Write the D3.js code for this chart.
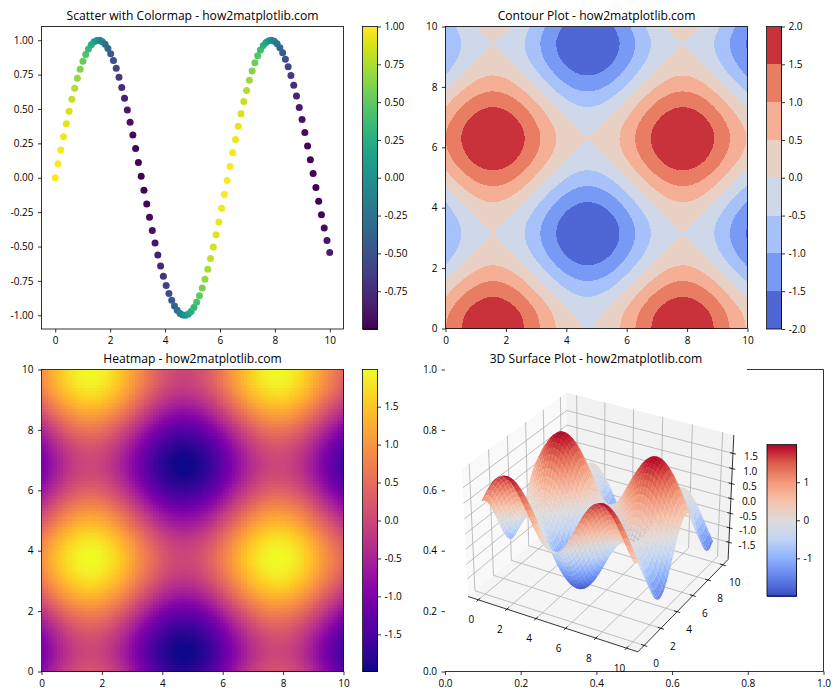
<!DOCTYPE html>
<html><head><meta charset="utf-8">
<script src="https://cdn.jsdelivr.net/npm/d3@7"></script>
<style>html,body{margin:0;padding:0;background:#fff}svg{display:block}text{font-family:"Open Sans","Noto Sans",sans-serif;fill:#000}</style>
</head><body><svg id="fig" width="840" height="700"></svg>
<script>
const scatterX=[0,.101,.202,.303,.404,.505,.606,.707,.808,.909,1.010,1.111,1.212,1.313,1.414,1.515,1.616,1.717,1.818,1.919,2.020,2.121,2.222,2.323,2.424,2.525,2.626,2.727,2.828,2.929,3.030,3.131,3.232,3.333,3.434,3.535,3.636,3.737,3.838,3.939,4.040,4.141,4.242,4.343,4.444,4.545,4.646,4.747,4.848,4.949,5.051,5.152,5.253,5.354,5.455,5.556,5.657,5.758,5.859,5.960,6.061,6.162,6.263,6.364,6.465,6.566,6.667,6.768,6.869,6.970,7.071,7.172,7.273,7.374,7.475,7.576,7.677,7.778,7.879,7.980,8.081,8.182,8.283,8.384,8.485,8.586,8.687,8.788,8.889,8.990,9.091,9.192,9.293,9.394,9.495,9.596,9.697,9.798,9.899,10];
const scatterY=[0,.101,.201,.298,.393,.484,.570,.650,.723,.789,.847,.896,.936,.967,.988,.998,.999,.989,.970,.940,.901,.853,.796,.730,.657,.578,.493,.404,.310,.212,.111,.010,-.091,-.190,-.288,-.384,-.475,-.562,-.642,-.716,-.783,-.841,-.891,-.932,-.964,-.987,-.998,-.999,-.991,-.972,-.943,-.905,-.858,-.802,-.738,-.666,-.588,-.504,-.415,-.321,-.222,-.121,-.020,.081,.181,.279,.374,.466,.554,.635,.709,.776,.836,.887,.928,.961,.984,.997,.9997,.992,.974,.946,.909,.862,.807,.744,.673,.595,.511,.423,.329,.231,.131,.030,-.070,-.171,-.269,-.365,-.457,-.544];
const scatterC=[1,.995,.980,.954,.919,.875,.822,.760,.691,.614,.532,.444,.351,.255,.156,.056,-.045,-.146,-.245,-.341,-.434,-.522,-.605,-.683,-.754,-.816,-.870,-.915,-.951,-.977,-.994,-1,-.996,-.982,-.958,-.923,-.880,-.827,-.767,-.698,-.622,-.541,-.454,-.362,-.266,-.166,-.066,.035,.135,.235,.332,.425,.514,.597,.675,.746,.809,.864,.910,.947,.975,.993,1,.997,.984,.960,.927,.885,.833,.773,.705,.630,.549,.462,.372,.276,.176,.076,-.025,-.126,-.225,-.322,-.416,-.505,-.590,-.668,-.739,-.804,-.859,-.906,-.944,-.973,-.991,-.9995,-.998,-.985,-.963,-.931,-.889,-.839];
const fieldRows=[
[1.00,1.48,1.84,2.00,1.91,1.60,1.14,.65,.24,.02,.04,.29,.72,1.22,1.66,1.94,1.99,1.80,1.41,.92,.46],
[.88,1.36,1.72,1.88,1.79,1.48,1.02,.53,.12,-.10,-.08,.17,.60,1.10,1.54,1.82,1.87,1.68,1.29,.80,.34],
[.54,1.02,1.38,1.54,1.45,1.14,.68,.19,-.22,-.44,-.42,-.17,.26,.76,1.20,1.48,1.53,1.34,.95,.46,0],
[.07,.55,.91,1.07,.98,.67,.21,-.28,-.69,-.91,-.89,-.64,-.21,.29,.73,1.01,1.06,.87,.48,-.01,-.47],
[-.42,.06,.42,.58,.49,.18,-.28,-.77,-1.18,-1.40,-1.38,-1.13,-.70,-.20,.24,.52,.57,.38,-.01,-.50,-.96],
[-.80,-.32,.04,.20,.11,-.20,-.66,-1.15,-1.56,-1.78,-1.76,-1.51,-1.08,-.58,-.14,.14,.19,0,-.39,-.88,-1.34],
[-.99,-.51,-.15,.01,-.08,-.39,-.85,-1.34,-1.75,-1.97,-1.95,-1.70,-1.27,-.77,-.33,-.05,0,-.19,-.58,-1.07,-1.53],
[-.94,-.46,-.10,.06,-.03,-.34,-.80,-1.29,-1.70,-1.92,-1.90,-1.65,-1.22,-.72,-.28,0,.05,-.14,-.53,-1.02,-1.48],
[-.65,-.17,.19,.35,.26,-.05,-.51,-1.00,-1.41,-1.63,-1.61,-1.36,-.93,-.43,.01,.29,.34,.15,-.24,-.73,-1.19],
[-.21,.27,.63,.79,.70,.39,-.07,-.56,-.97,-1.19,-1.17,-.92,-.49,.01,.45,.73,.78,.59,.20,-.29,-.75],
[.28,.76,1.12,1.28,1.19,.88,.42,-.07,-.48,-.70,-.68,-.43,0,.50,.94,1.22,1.27,1.08,.69,.20,-.26],
[.71,1.19,1.55,1.71,1.62,1.31,.85,.36,-.05,-.27,-.25,0,.43,.93,1.37,1.65,1.70,1.51,1.12,.63,.17],
[.96,1.44,1.80,1.96,1.87,1.56,1.10,.61,.20,-.02,0,.25,.68,1.18,1.62,1.90,1.95,1.76,1.37,.88,.42],
[.98,1.46,1.82,1.98,1.89,1.58,1.12,.63,.22,0,.02,.27,.70,1.20,1.64,1.92,1.97,1.78,1.39,.90,.44],
[.75,1.23,1.59,1.75,1.66,1.35,.89,.40,-.01,-.23,-.21,.04,.47,.97,1.41,1.69,1.74,1.55,1.16,.67,.21],
[.35,.83,1.19,1.35,1.26,.95,.49,0,-.41,-.63,-.61,-.36,.07,.57,1.01,1.29,1.34,1.15,.76,.27,-.19],
[-.15,.33,.69,.85,.76,.45,-.01,-.50,-.91,-1.13,-1.11,-.86,-.43,.07,.51,.79,.84,.65,.26,-.23,-.69],
[-.60,-.12,.24,.40,.31,0,-.46,-.95,-1.36,-1.58,-1.56,-1.31,-.88,-.38,.06,.34,.39,.20,-.19,-.68,-1.14],
[-.91,-.43,-.07,.09,0,-.31,-.77,-1.26,-1.67,-1.89,-1.87,-1.62,-1.19,-.69,-.25,.03,.08,-.11,-.50,-.99,-1.45],
[-1.00,-.52,-.16,0,-.09,-.40,-.86,-1.35,-1.76,-1.98,-1.96,-1.71,-1.28,-.78,-.34,-.06,-.01,-.20,-.59,-1.08,-1.54],
[-.84,-.36,0,.16,.07,-.24,-.70,-1.19,-1.60,-1.82,-1.80,-1.55,-1.12,-.62,-.18,.10,.15,-.04,-.43,-.92,-1.38]];
const contourLevels=[-2,-1.5,-1,-.5,0,.5,1,1.5,2];
const titles=["Scatter with Colormap - how2matplotlib.com","Contour Plot - how2matplotlib.com","Heatmap - how2matplotlib.com","3D Surface Plot - how2matplotlib.com"];
const xTicks=[0,2,4,6,8,10];
const scatterYTicks=[-1,-.75,-.5,-.25,0,.25,.5,.75,1];
const scatterBarTicks=[-.75,-.5,-.25,0,.25,.5,.75,1];
const heatBarTicks=[-1.5,-1,-.5,0,.5,1,1.5];
const surfBarTicks=[-1,0,1];
const unitTicks=[0,.2,.4,.6,.8,1];
const zTicks3d=[-1.5,-1,-.5,0,.5,1,1.5];
const coolwarmStops=["#3b4cc0","#6282ea","#8db0fe","#c0d4f5","#dddcdc","#f5c4ac","#f49a7b","#de604d","#b40426"];

const svg=d3.select("#fig");
const TICK_FS=10,TITLE_FS=12.1;
const coolwarm=d3.scaleLinear().domain(coolwarmStops.map((_,i)=>i/8)).range(coolwarmStops);
const hy=s=>s.replace("\u2212","-");
const f2=d3.format(".2f"),f1=d3.format(".1f"),f0=d3.format("d");

// display resampling of the read-off table (100 x 100 like the picture's cells)
function cr(p,t){const n=p.length,u=Math.min(t,n-1.000001),i=Math.floor(u),f=u-i;
 const a=i>0?p[i-1]:2*p[0]-p[1],b=p[i],c=p[i+1],d=i+2<n?p[i+2]:2*p[n-1]-p[n-2];
 return .5*(2*b+(c-a)*f+(2*a-5*b+4*c-d)*f*f+(3*b-a-3*c+d)*f*f*f);}
const N=100;
const colsFine=fieldRows.map(r=>d3.range(N).map(i=>cr(r,i*20/(N-1))));
const grid=d3.range(N).map(j=>d3.range(N).map(i=>cr(colsFine.map(r=>r[i]),j*20/(N-1))));
const gridCoord=i=>i*10/(N-1);

function axes(box,xd,yd,xt,yt,fx,fy){
 const g=svg.append("g");
 const x=d3.scaleLinear().domain(xd).range([box.l,box.r]);
 const y=d3.scaleLinear().domain(yd).range([box.b,box.t]);
 return {g,x,y,box,frame(){
  const a=svg.append("g");
  a.append("g").attr("transform",`translate(0,${box.b})`).call(d3.axisBottom(x).tickValues(xt).tickFormat(d=>hy(fx(d))).tickSize(3.5).tickPadding(4.5).tickSizeOuter(0));
  a.append("g").attr("transform",`translate(${box.l},0)`).call(d3.axisLeft(y).tickValues(yt).tickFormat(d=>hy(fy(d))).tickSize(3.5).tickPadding(4.5).tickSizeOuter(0));
  a.selectAll("text").attr("font-size",TICK_FS).attr("font-family",null);
  a.selectAll(".tick line").attr("stroke","#000").attr("stroke-width",.8);
  a.selectAll(".domain").remove();
  a.append("rect").attr("x",box.l).attr("y",box.t).attr("width",box.r-box.l).attr("height",box.b-box.t).attr("fill","none").attr("stroke","#000").attr("stroke-width",.8);
 }};
}
function title(txt,cx,y){svg.append("text").attr("x",cx).attr("y",y).attr("text-anchor","middle").attr("font-size",TITLE_FS).text(txt);}
function clip(id,b){svg.append("clipPath").attr("id",id).append("rect").attr("x",b.l).attr("y",b.t).attr("width",b.r-b.l).attr("height",b.b-b.t);}
function colorbar(b,dom,color,ticks,fmt,levels){
 const y=d3.scaleLinear().domain(dom).range([b.b,b.t]);
 const g=svg.append("g");
 if(levels){
  g.selectAll("rect").data(d3.pairs(levels)).join("rect").attr("x",b.l).attr("width",b.r-b.l)
   .attr("y",d=>y(d[1])).attr("height",d=>y(d[0])-y(d[1])).attr("fill",d=>color((d[0]+d[1])/2)).attr("shape-rendering","crispEdges");
 }else{
  const steps=d3.range(256);const h=(b.b-b.t)/256;
  g.selectAll("rect").data(steps).join("rect").attr("x",b.l).attr("width",b.r-b.l)
   .attr("y",i=>b.b-(i+1)*h).attr("height",h+.6).attr("fill",i=>color(dom[0]+(i+.5)/256*(dom[1]-dom[0]))).attr("shape-rendering","crispEdges");
 }
 const a=svg.append("g").attr("transform",`translate(${b.r},0)`).call(d3.axisRight(y).tickValues(ticks).tickFormat(d=>hy(fmt(d))).tickSize(3.5).tickPadding(3.5).tickSizeOuter(0));
 a.selectAll("text").attr("font-size",TICK_FS).attr("font-family",null);
 a.selectAll(".tick line").attr("stroke","#000").attr("stroke-width",.8);
 a.select(".domain").remove();
 svg.append("rect").attr("x",b.l).attr("y",b.t).attr("width",b.r-b.l).attr("height",b.b-b.t).attr("fill","none").attr("stroke","#000").attr("stroke-width",.8);
}

// ---------- scatter
{
 const A=axes({l:41.5,r:343.5,t:26.5,b:329},[-.5,10.5],[-1.0997,1.0997],xTicks,scatterYTicks,f0,f2);
 const c=d3.scaleSequential(d3.interpolateViridis).domain([-1,1]);
 A.g.selectAll("circle").data(scatterX).join("circle").attr("cx",d=>A.x(d)).attr("cy",(d,i)=>A.y(scatterY[i])).attr("r",3.5).attr("fill",(d,i)=>c(scatterC[i]));
 A.frame();title(titles[0],192.5,19.5);
 colorbar({l:362.5,r:377.5,t:26.5,b:329},[-1,1],c,scatterBarTicks,f2);
}
// ---------- contour
{
 const A=axes({l:445.5,r:747.5,t:26.5,b:328.5},[0,10],[0,10],xTicks,xTicks,f0,f0);
 clip("c2",A.box);
 const c=v=>coolwarm((v+2)/4);
 const flat=[];grid.forEach(r=>r.forEach(v=>flat.push(v)));
 const cs=d3.contours().size([N,N]).thresholds(contourLevels.slice(1,-1)).smooth(true)(flat);
 const path=d3.geoPath(d3.geoTransform({point(px,py){this.stream.point(A.x((px-.5)*10/(N-1)),A.y((py-.5)*10/(N-1)));}}));
 A.g.attr("clip-path","url(#c2)");
 A.g.append("rect").attr("x",A.box.l).attr("y",A.box.t).attr("width",A.box.r-A.box.l).attr("height",A.box.b-A.box.t).attr("fill",c((contourLevels[0]+contourLevels[1])/2));
 A.g.selectAll("path").data(cs).join("path").attr("d",path).attr("fill",d=>c(d.value+.25)).attr("shape-rendering","crispEdges");
 A.frame();title(titles[1],596.5,19.5);
 colorbar({l:766.5,r:781.5,t:26.5,b:329},[-2,2],c,contourLevels,f1,contourLevels);
}
// ---------- heatmap
{
 const A=axes({l:41.5,r:343.5,t:369.5,b:671.5},[0,10],[0,10],xTicks,xTicks,f0,f0);
 const c=d3.scaleSequential(d3.interpolatePlasma).domain([-1.99,1.99]);
 const band=d3.scaleBand().domain(d3.range(N)).range([A.box.l,A.box.r]);
 const vband=d3.scaleBand().domain(d3.range(N)).range([A.box.t,A.box.b]);
 const cells=[];grid.forEach((r,j)=>r.forEach((v,i)=>cells.push({i,j,v})));
 A.g.selectAll("rect").data(cells).join("rect").attr("x",d=>band(d.i)).attr("y",d=>vband(d.j)).attr("width",band.bandwidth()+.5).attr("height",vband.bandwidth()+.5).attr("fill",d=>c(d.v)).attr("shape-rendering","crispEdges");
 A.frame();title(titles[2],192.5,363);
 colorbar({l:362.5,r:377.5,t:369.5,b:671.5},[-1.99,1.99],c,heatBarTicks,f1);
}
// ---------- 3D
{
 const box={l:445,r:823.5,t:369.5,b:671.5};
 const x=d3.scaleLinear().domain([0,1]).range([box.l,box.r]);
 const y=d3.scaleLinear().domain([0,1]).range([box.b,box.t]);
 const a=svg.append("g");
 a.append("g").attr("transform",`translate(0,${box.b})`).call(d3.axisBottom(x).tickValues(unitTicks).tickFormat(f1).tickSize(3.5).tickPadding(4.5).tickSizeOuter(0));
 a.append("g").attr("transform",`translate(${box.l},0)`).call(d3.axisLeft(y).tickValues(unitTicks).tickFormat(f1).tickSize(3.5).tickPadding(4.5).tickSizeOuter(0));
 a.selectAll("text").attr("font-size",TICK_FS).attr("font-family",null);
 a.selectAll(".tick line").attr("stroke","#000").attr("stroke-width",.8);
 a.selectAll(".domain").remove();
 const ln=(x1,y1,x2,y2,w=.8,col="#000",p=svg)=>p.append("line").attr("x1",x1).attr("y1",y1).attr("x2",x2).attr("y2",y2).attr("stroke",col).attr("stroke-width",w);
 ln(box.l,box.b,box.r,box.b);ln(747,box.t,box.r,box.t);ln(box.r,box.t,box.r,box.b);
 title(titles[3],596,363);

 const lim=[-.729,10.729],zlim=[-2.1,2.1];
 const hx=.5953,hz=.4465;
 const sx=d3.scaleLinear().domain(lim).range([-hx,hx]),sy=d3.scaleLinear().domain(lim).range([-hx,hx]),sz=d3.scaleLinear().domain(zlim).range([-hz,hz]);
 const U=[.866,.5,0],V=[-.25,.433,.866],W=[.433,-.75,.5];
 const px=d3.scaleLinear().domain([0,1]).range([600.5,2234.5]),py=d3.scaleLinear().domain([0,1]).range([516,-1114]);
 const dot=(a,b)=>a[0]*b[0]+a[1]*b[1]+a[2]*b[2];
 function P(xv,yv,zv){const d=[sx(xv),sy(yv),sz(zv)],w=10-dot(W,d);return [px(dot(U,d)/w),py(dot(V,d)/w),dot(W,d)];}
 const [x0,x1]=lim,[z0,z1]=zlim,y0=x0,y1=x1;
 const g=svg.append("g");
 const poly=(pts,fill)=>g.append("path").attr("d",d3.line()(pts.map(p=>P(...p).slice(0,2)))+"Z").attr("fill",fill);
 poly([[x0,y0,z0],[x0,y1,z0],[x0,y1,z1],[x0,y0,z1]],"#f9f9f9");
 poly([[x0,y1,z0],[x1,y1,z0],[x1,y1,z1],[x0,y1,z1]],"#f2f2f2");
 poly([[x0,y0,z0],[x1,y0,z0],[x1,y1,z0],[x0,y1,z0]],"#f5f5f5");
 const seg=(A,B,w=.8,col="#b0b0b0")=>{const a=P(...A),b=P(...B);ln(a[0],a[1],b[0],b[1],w,col,g);};
 xTicks.forEach(t=>{seg([t,y0,z0],[t,y1,z0]);seg([t,y1,z0],[t,y1,z1]);});
 xTicks.forEach(t=>{seg([x0,t,z0],[x1,t,z0]);seg([x0,t,z0],[x0,t,z1]);});
 zTicks3d.forEach(t=>{seg([x0,y0,t],[x0,y1,t]);seg([x0,y1,t],[x1,y1,t]);});
 seg([x0,y0,z0],[x1,y0,z0],.8,"#000");seg([x1,y0,z0],[x1,y1,z0],.8,"#000");seg([x1,y1,z0],[x1,y1,z1],.8,"#000");
 const lbl=(p,dx,dy,t)=>g.append("text").attr("x",p[0]+dx).attr("y",p[1]+dy).attr("text-anchor","middle").attr("dy",".35em").attr("font-size",TICK_FS).text(t);
 xTicks.forEach(t=>{seg([t,y0-.2,z0],[t,y0+.2,z0],.8,"#000");lbl(P(t,y0,z0),-7,20,f0(t));});
 xTicks.forEach(t=>{seg([x1-.2,t,z0],[x1+.2,t,z0],.8,"#000");lbl(P(x1,t,z0),12,18,f0(t));});
 zTicks3d.forEach(t=>{seg([x1-.2,y1,t],[x1+.2,y1,t],.8,"#000");lbl(P(x1,y1,t),18,3,hy(f1(t)));});

 // surface cells
 const idx=d3.range(0,N-1,2).concat([N-1]);
 const quads=[];
 d3.pairs(idx).forEach(([j,j2])=>d3.pairs(idx).forEach(([i,i2])=>{
  const c=[[i,j],[i2,j],[i2,j2],[i,j2]];
  const pts=c.map(([a,b])=>P(gridCoord(a),gridCoord(b),grid[b][a]));
  quads.push({pts,z:d3.mean(c,([a,b])=>grid[b][a]),depth:d3.mean(pts,p=>p[2])});
 }));
 quads.sort((a,b)=>d3.ascending(a.depth,b.depth));
 const c=v=>coolwarm((v+1.99)/3.98);
 svg.append("g").selectAll("path").data(quads).join("path").attr("d",d=>d3.line()(d.pts.map(p=>[p[0],p[1]]))+"Z").attr("fill",d=>c(d.z));
 colorbar({l:767,r:796.5,t:444.5,b:596},[-1.99,1.99],c,surfBarTicks,f0);
}
</script></body></html>
